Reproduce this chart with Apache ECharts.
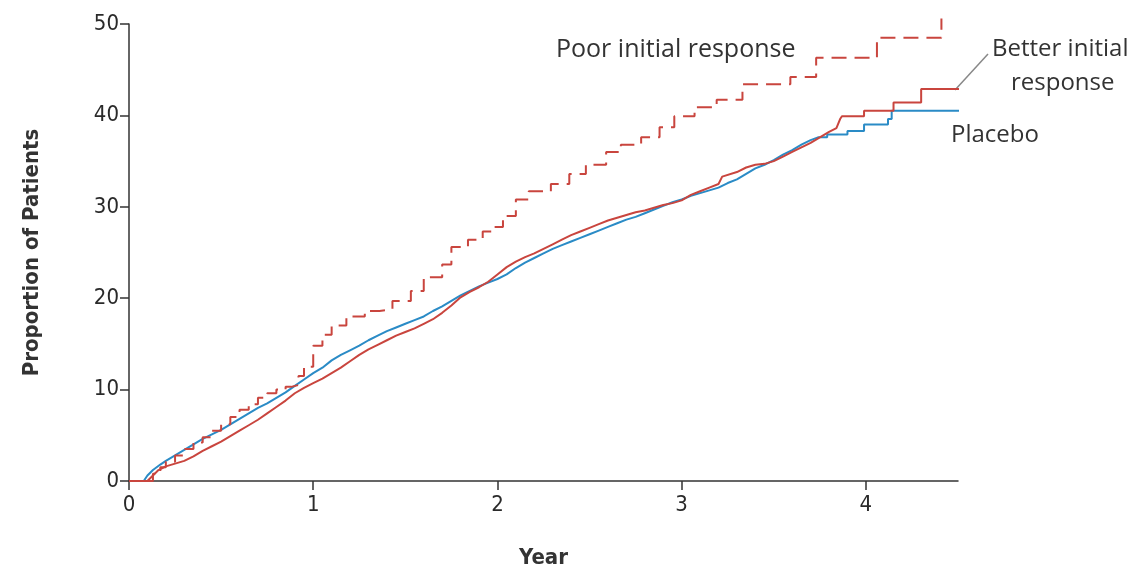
<!DOCTYPE html>
<html>
<head>
<meta charset="utf-8">
<script src="https://cdn.jsdelivr.net/npm/echarts@6/dist/echarts.min.js"></script>
<style>html,body{margin:0;padding:0;background:#fff;}#c{width:1138px;height:574px;}</style>
</head>
<body>
<div id="c"></div>
<script>
// Tick labels
const xTicks = [0, 1, 2, 3, 4];
const yTicks = [0, 10, 20, 30, 40, 50];

// Series names
const seriesNames = ['Placebo', 'Better initial response', 'Poor initial response'];

// Placebo: [year, proportion]  (corner points given explicitly where steps are large)
const placebo = [
  [0,0],[0.08,0],[0.1,0.6],[0.13,1.2],[0.17,1.8],[0.2,2.2],[0.25,2.8],[0.3,3.4],[0.35,4.0],[0.4,4.6],
  [0.45,5.1],[0.5,5.6],[0.55,6.2],[0.6,6.8],[0.65,7.4],[0.7,8.0],[0.75,8.5],[0.8,9.1],[0.85,9.7],
  [0.9,10.4],[0.95,11.1],[1.0,11.8],[1.05,12.4],[1.1,13.2],[1.15,13.8],[1.2,14.3],[1.25,14.8],
  [1.3,15.4],[1.35,15.9],[1.4,16.4],[1.45,16.8],[1.5,17.2],[1.55,17.6],[1.6,18.0],[1.65,18.6],
  [1.7,19.1],[1.75,19.7],[1.8,20.3],[1.85,20.8],[1.9,21.3],[1.95,21.7],[2.0,22.1],[2.05,22.6],
  [2.1,23.3],[2.15,23.9],[2.2,24.4],[2.25,24.9],[2.3,25.4],[2.35,25.8],[2.4,26.2],[2.45,26.6],
  [2.5,27.0],[2.55,27.4],[2.6,27.8],[2.65,28.2],[2.7,28.6],[2.75,28.9],[2.8,29.3],[2.85,29.7],
  [2.9,30.1],[2.95,30.5],[3.0,30.8],[3.05,31.2],[3.1,31.5],[3.15,31.8],[3.2,32.1],[3.25,32.6],
  [3.3,33.0],[3.35,33.6],[3.4,34.2],[3.45,34.6],[3.5,35.1],[3.55,35.7],[3.6,36.2],[3.65,36.8],
  [3.7,37.3],[3.74,37.6],[3.79,37.6],[3.79,37.9],[3.9,37.9],[3.9,38.3],[3.99,38.3],[3.99,39.0],
  [4.12,39.0],[4.12,39.6],[4.14,39.6],[4.14,40.5],[4.58,40.5]
];

// Better initial response: [year, proportion]
const better = [
  [0,0],[0.1,0],[0.13,0.6],[0.16,1.2],[0.2,1.6],[0.25,1.9],[0.3,2.2],[0.35,2.7],[0.4,3.3],[0.45,3.8],
  [0.5,4.3],[0.55,4.9],[0.6,5.5],[0.65,6.1],[0.7,6.7],[0.75,7.4],[0.8,8.1],[0.85,8.8],[0.9,9.6],
  [0.95,10.2],[1.0,10.7],[1.05,11.2],[1.1,11.8],[1.15,12.4],[1.2,13.1],[1.25,13.8],[1.3,14.4],
  [1.35,14.9],[1.4,15.4],[1.45,15.9],[1.5,16.3],[1.55,16.7],[1.6,17.2],[1.65,17.7],[1.7,18.4],
  [1.75,19.2],[1.8,20.1],[1.85,20.7],[1.9,21.2],[1.95,21.8],[2.0,22.6],[2.05,23.4],[2.1,24.0],
  [2.15,24.5],[2.2,24.9],[2.25,25.4],[2.3,25.9],[2.35,26.4],[2.4,26.9],[2.45,27.3],[2.5,27.7],
  [2.55,28.1],[2.6,28.5],[2.65,28.8],[2.7,29.1],[2.75,29.4],[2.8,29.6],[2.85,29.9],[2.9,30.2],
  [2.95,30.4],[3.0,30.7],[3.05,31.3],[3.1,31.7],[3.15,32.1],[3.2,32.5],[3.22,33.3],[3.3,33.8],
  [3.35,34.3],[3.4,34.6],[3.45,34.7],[3.5,35.0],[3.55,35.5],[3.6,36.0],[3.65,36.5],[3.7,37.0],
  [3.75,37.6],[3.8,38.2],[3.84,38.6],[3.86,39.6],[3.87,39.9],[3.99,39.9],[3.99,40.5],[4.15,40.5],
  [4.15,41.4],[4.3,41.4],[4.3,42.9],[4.57,42.9]
];

// Poor initial response: [year, proportion]  (Kaplan-Meier steps)
const poor = [
  [0.1,0],[0.13,0.8],[0.17,1.5],[0.2,2.1],[0.25,2.8],[0.3,3.5],[0.35,4.2],[0.4,4.8],[0.45,5.5],
  [0.5,6.2],[0.55,7.0],[0.6,7.8],[0.65,8.4],[0.7,9.1],[0.75,9.6],[0.8,10.0],[0.85,10.3],[0.88,10.5],
  [0.92,11.5],[0.95,12.5],[1.0,14.8],[1.05,16.0],[1.1,17.0],[1.18,18.0],[1.28,18.6],[1.36,18.8],
  [1.43,19.7],[1.53,20.8],[1.6,22.3],[1.7,23.7],[1.75,25.6],[1.84,26.4],[1.92,27.3],[1.97,27.8],
  [2.03,29.0],[2.1,30.8],[2.17,31.7],[2.29,32.5],[2.39,33.6],[2.48,34.6],[2.59,36.0],[2.67,36.8],
  [2.78,37.6],[2.88,38.7],[2.96,39.9],[3.07,40.9],[3.19,41.7],[3.33,43.4],[3.59,44.2],[3.73,46.3],
  [4.06,48.5],[4.41,50.6]
];

const RED = '#c9453e';
const BLUE = '#2a8bc6';
const TXT = '#333333';
const tickFont = "'Liberation Sans Narrow','DejaVu Sans Condensed','Roboto',sans-serif";
const noteFont = "'Open Sans','Noto Sans',sans-serif";

const chart = echarts.init(document.getElementById('c'), null, {renderer: 'canvas'});
chart.setOption({
  animation: false,
  backgroundColor: '#ffffff',
  grid: {left: 129, right: 180, top: 24, bottom: 92, containLabel: false},
  xAxis: {
    type: 'value', min: 0, max: 4.5, interval: 1,
    name: 'Year', nameLocation: 'middle', nameGap: 66,
    nameTextStyle: {fontFamily: tickFont, fontSize: 22, fontWeight: 'bold', color: TXT},
    axisLine: {show: true, lineStyle: {color: '#333', width: 1.5}},
    axisTick: {show: true, length: 9, lineStyle: {color: '#333', width: 1.5}, customValues: xTicks},
    axisLabel: {customValues: xTicks, fontFamily: tickFont, fontSize: 22, color: '#2a2a2a', margin: 13},
    splitLine: {show: false}
  },
  yAxis: {
    type: 'value', min: 0, max: 50, interval: 10,
    name: 'Proportion of Patients', nameLocation: 'middle', nameGap: 86,
    nameTextStyle: {fontFamily: tickFont, fontSize: 22, fontWeight: 'bold', color: TXT},
    axisLine: {show: true, lineStyle: {color: '#333', width: 1.5}},
    axisTick: {show: true, length: 9, lineStyle: {color: '#333', width: 1.5}, customValues: yTicks},
    axisLabel: {customValues: yTicks, fontFamily: tickFont, fontSize: 22, color: '#2a2a2a', margin: 10},
    splitLine: {show: false}
  },
  series: [
    {name: seriesNames[0], type: 'line', data: placebo, showSymbol: false, clip: false,
     lineStyle: {color: BLUE, width: 2}, z: 2},
    {name: seriesNames[1], type: 'line', data: better, showSymbol: false, clip: false,
     lineStyle: {color: RED, width: 2}, z: 3},
    {name: seriesNames[2], type: 'line', step: 'end', data: poor, showSymbol: false, clip: false,
     lineStyle: {color: RED, width: 2, type: [15, 8]}, z: 4}
  ],
  graphic: [
    {type: 'text', left: 556, top: 37, style: {text: 'Poor initial response', font: '25px ' + noteFont, fill: TXT}},
    {type: 'text', left: 992, top: 37, style: {text: 'Better initial', font: '24px ' + noteFont, fill: TXT}},
    {type: 'text', left: 1011, top: 71, style: {text: 'response', font: '24px ' + noteFont, fill: TXT}},
    {type: 'text', left: 951, top: 123, style: {text: 'Placebo', font: '24px ' + noteFont, fill: TXT}},
    {type: 'line', shape: {x1: 955, y1: 90, x2: 988, y2: 54}, style: {stroke: '#888', lineWidth: 1.5}}
  ]
});
</script>
</body>
</html>
